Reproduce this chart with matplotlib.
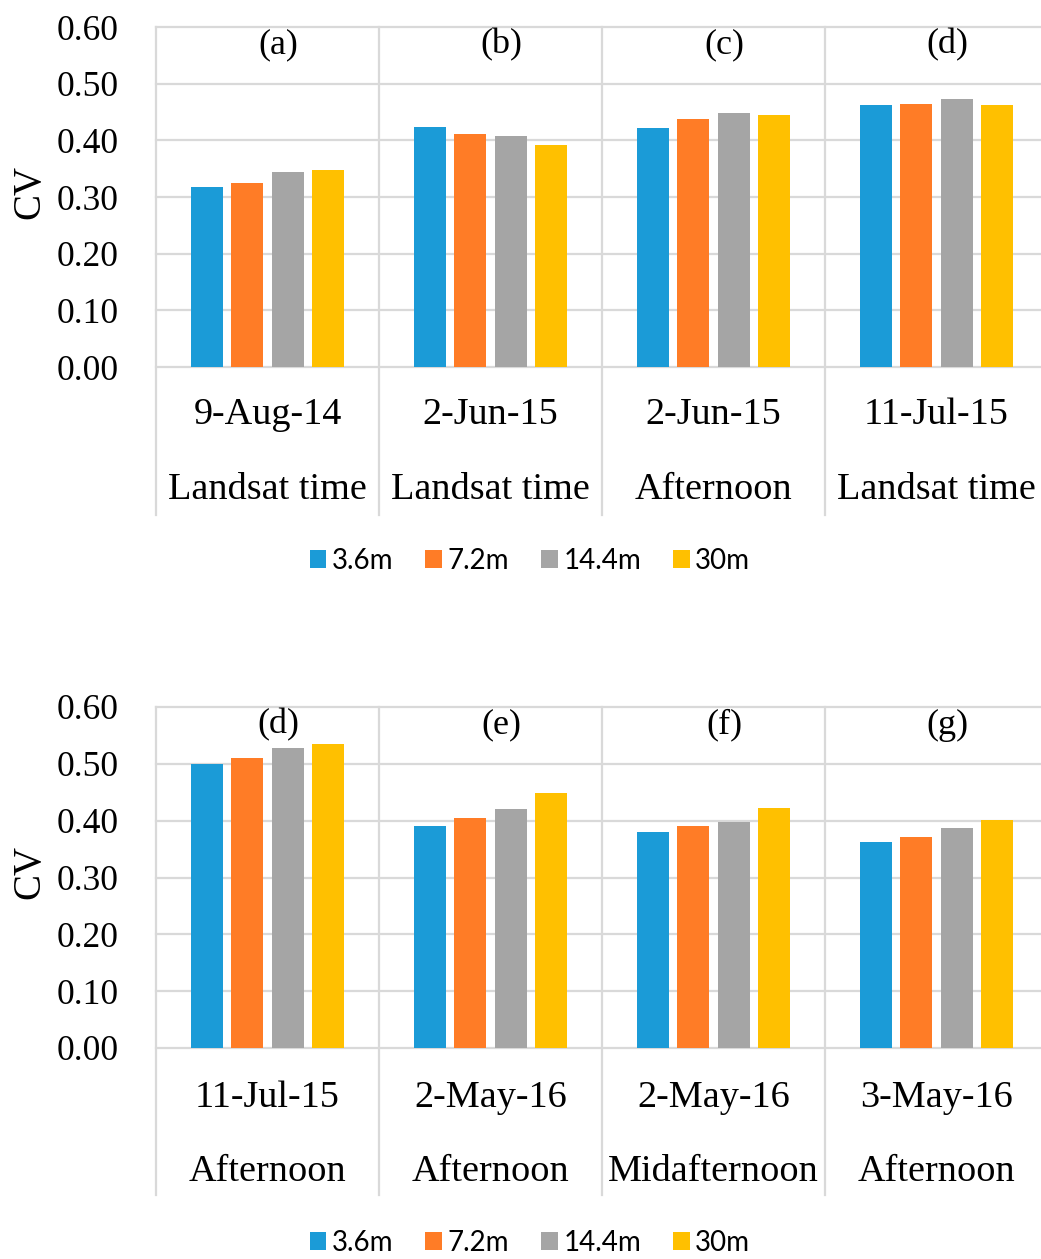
import numpy as np
import matplotlib
matplotlib.use("Agg")
import matplotlib.pyplot as plt
from matplotlib.patches import Patch

# data
series = ["3.6m", "7.2m", "14.4m", "30m"]
colors = ["#1B9BD7", "#FF7C26", "#A5A5A5", "#FFC000"]

top_dates = ["9-Aug-14", "2-Jun-15", "2-Jun-15", "11-Jul-15"]
top_times = ["Landsat time", "Landsat time", "Afternoon", "Landsat time"]
top_panels = ["(a)", "(b)", "(c)", "(d)"]
top_vals = [
    [0.318, 0.423, 0.422, 0.462],   # 3.6m
    [0.325, 0.411, 0.437, 0.464],   # 7.2m
    [0.345, 0.408, 0.449, 0.473],   # 14.4m
    [0.348, 0.391, 0.445, 0.463],   # 30m
]

bot_dates = ["11-Jul-15", "2-May-16", "2-May-16", "3-May-16"]
bot_times = ["Afternoon", "Afternoon", "Midafternoon", "Afternoon"]
bot_panels = ["(d)", "(e)", "(f)", "(g)"]
bot_vals = [
    [0.500, 0.390, 0.380, 0.362],
    [0.511, 0.404, 0.390, 0.371],
    [0.527, 0.420, 0.398, 0.387],
    [0.535, 0.449, 0.422, 0.401],
]

yticks = [0.0, 0.1, 0.2, 0.3, 0.4, 0.5, 0.6]

W, H = 1041, 1259
SERIF = "Liberation Serif"
SANS = "Lato"
GRID = "#D9D9D9"

fig = plt.figure(figsize=(W / 100, H / 100), dpi=100)


def draw(y_top, y_zero, y_div_bottom, y_date, y_time, y_leg, vals, dates, times, panels):
    left, right = 156, 1048
    ax = fig.add_axes([left / W, 1 - y_zero / H, (right - left) / W, (y_zero - y_top) / H])
    hpx = y_zero - y_top
    x = np.arange(len(dates))
    step, bw = 0.181, 0.143
    for i, (name, c) in enumerate(zip(series, colors)):
        ax.bar(x + (i - 1.5) * step, vals[i], width=bw, color=c, zorder=3)

    ax.set_xlim(-0.5, len(dates) - 0.5)
    ax.set_ylim(0, 0.6)
    for s in ax.spines.values():
        s.set_visible(False)
    for t in yticks:
        ax.axhline(t, color=GRID, lw=1.6, zorder=1, clip_on=False)
    ax.set_xticks([])
    ax.set_yticks(yticks)
    ax.set_yticklabels([f"{t:.2f}" for t in yticks], fontsize=25.5, fontfamily=SERIF)
    ax.tick_params(axis="y", length=0, pad=27)

    # category dividers extending below the axis
    trans = ax.get_xaxis_transform()
    ybot = -(y_div_bottom - y_zero) / hpx
    for xd in np.arange(-0.5, len(dates), 1.0):
        ax.plot([xd, xd], [ybot, 1], color=GRID, lw=1.6, transform=trans,
                clip_on=False, zorder=1)

    for j in range(len(dates)):
        ax.text(j, -(y_date - y_zero) / hpx, dates[j], transform=trans, ha="center",
                va="center", fontsize=27.5, fontfamily=SERIF)
        ax.text(j, -(y_time - y_zero) / hpx, times[j], transform=trans, ha="center",
                va="center", fontsize=27.5, fontfamily=SERIF)
        ax.text(j + 0.05, 0.568, panels[j], ha="center", va="center", fontsize=26,
                fontfamily=SERIF)

    fig.text(30 / W, 1 - (y_top + y_zero) / 2 / H + 0.004, "CV", rotation=90,
             ha="center", va="center", fontsize=28, fontfamily=SERIF)

    handles = [Patch(facecolor=c, label=n) for n, c in zip(series, colors)]
    fig.legend(handles=handles, loc="center", bbox_to_anchor=(530 / W, 1 - y_leg / H),
               ncol=4, frameon=False, prop={"family": SANS, "size": 20},
               handlelength=0.6, handleheight=0.6, handletextpad=0.2,
               columnspacing=1.15)


draw(27, 367, 515, 415, 490, 561, top_vals, top_dates, top_times, top_panels)
draw(707, 1048, 1195, 1098, 1172, 1243, bot_vals, bot_dates, bot_times, bot_panels)

fig.savefig("out.png", dpi=100)
